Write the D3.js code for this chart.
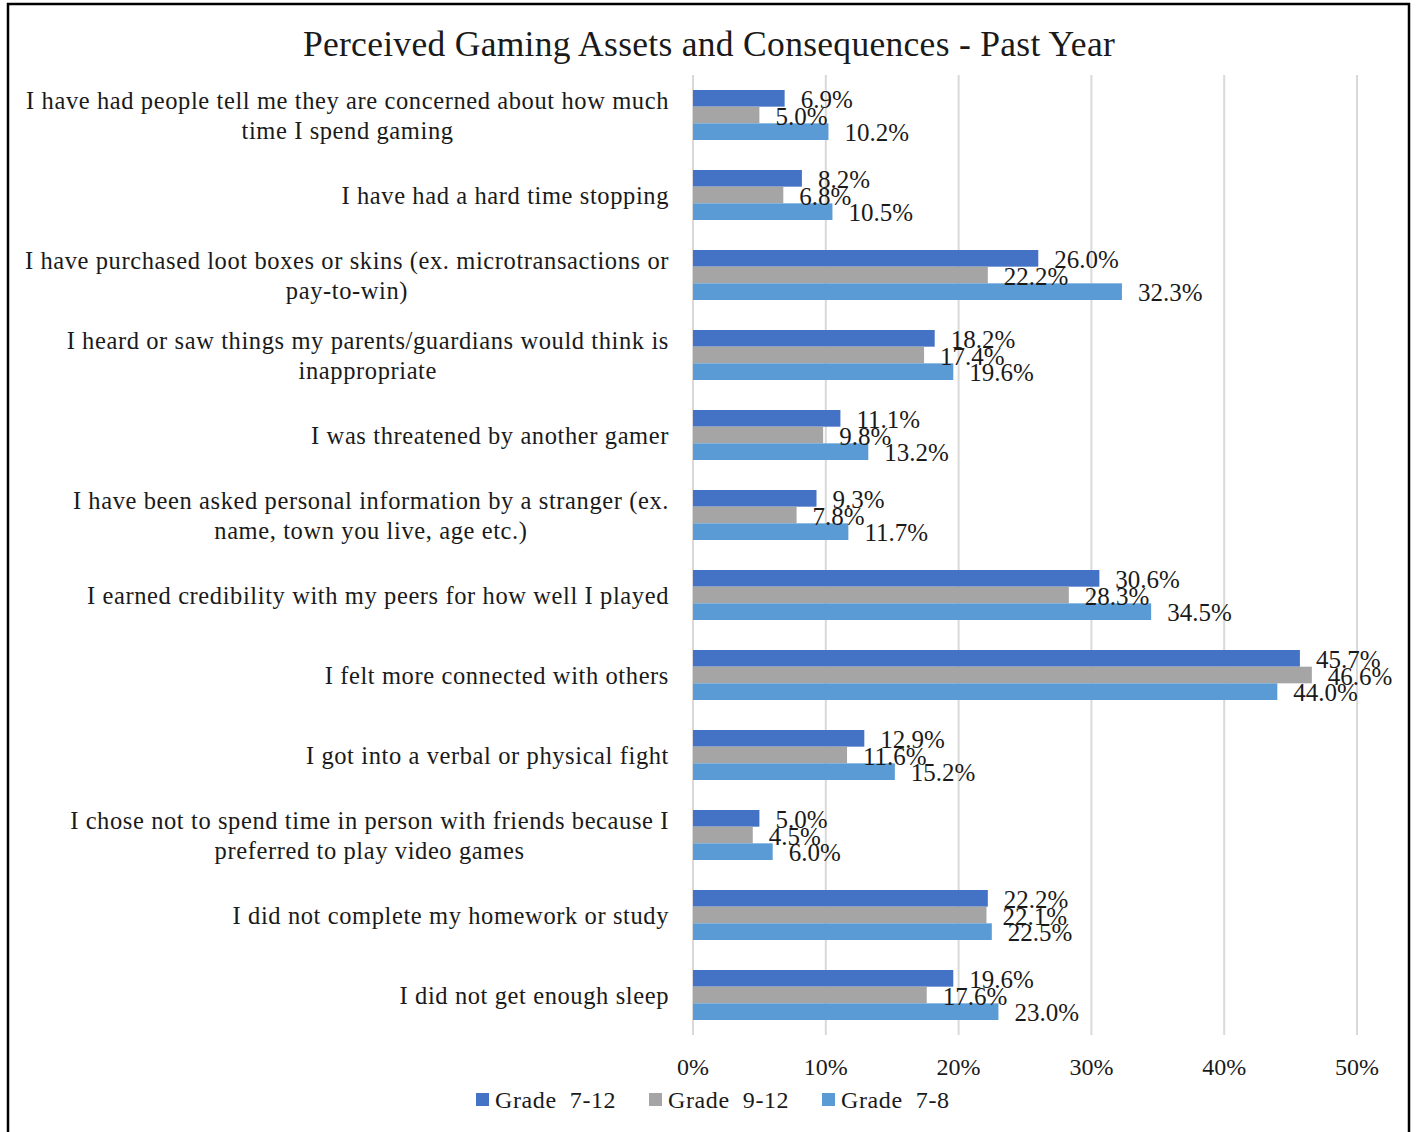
<!DOCTYPE html>
<html>
<head>
<meta charset="utf-8">
<script src="https://cdn.jsdelivr.net/npm/d3@7"></script>
<style>
  html, body { margin: 0; padding: 0; background: #fff; }
  svg { display: block; }
  text { font-family: "Liberation Serif", "Times New Roman", serif; fill: #1a1a1a; }
</style>
</head>
<body>
<svg id="chart" width="1418" height="1132"></svg>
<script>
// Survey items (line breaks mark where the label wraps)
const categories = [
  "I have had people tell me they are concerned about how much\ntime I spend gaming",
  "I have had a hard time stopping",
  "I have purchased loot boxes or skins (ex. microtransactions or\npay-to-win)",
  "I heard or saw things my parents/guardians would think is\ninappropriate",
  "I was threatened by another gamer",
  "I have been asked personal information by a stranger (ex.\nname, town you live, age etc.)",
  "I earned credibility with my peers for how well I played",
  "I felt more connected with others",
  "I got into a verbal or physical fight",
  "I chose not to spend time in person with friends because I\npreferred to play video games",
  "I did not complete my homework or study",
  "I did not get enough sleep"
];

const seriesNames = ["Grade  7-12", "Grade  9-12", "Grade  7-8"];
const grade7to12 = [6.9, 8.2, 26.0, 18.2, 11.1, 9.3, 30.6, 45.7, 12.9, 5.0, 22.2, 19.6];
const grade9to12 = [5.0, 6.8, 22.2, 17.4, 9.8, 7.8, 28.3, 46.6, 11.6, 4.5, 22.1, 17.6];
const grade7to8  = [10.2, 10.5, 32.3, 19.6, 13.2, 11.7, 34.5, 44.0, 15.2, 6.0, 22.5, 23.0];
const tickValues = [0, 10, 20, 30, 40, 50];
const colors = ["#4472C4", "#A5A5A5", "#5B9BD5"];

const series = [grade7to12, grade9to12, grade7to8];
const svg = d3.select("#chart");

// Outer frame
svg.append("rect")
  .attr("x", 8).attr("y", 4)
  .attr("width", 1401).attr("height", 1140)
  .attr("fill", "none").attr("stroke", "#000").attr("stroke-width", 2.5);

// Title
svg.append("text")
  .attr("x", 709).attr("y", 56)
  .attr("text-anchor", "middle")
  .attr("font-size", 35.5)
  .attr("letter-spacing", 0.3)
  .text("Perceived Gaming Assets and Consequences - Past Year");

const plot = { left: 693, right: 1357, top: 75, bottom: 1035 };

const x = d3.scaleLinear().domain([0, 50]).range([plot.left, plot.right]);
const y = d3.scaleBand().domain(d3.range(categories.length))
  .range([plot.top, plot.bottom]).paddingInner(0.375).paddingOuter(0.1875);
const ySub = d3.scaleBand().domain(d3.range(series.length)).range([0, y.bandwidth()]);

// Vertical gridlines
svg.append("g").selectAll("line")
  .data(tickValues)
  .join("line")
  .attr("x1", d => x(d)).attr("x2", d => x(d))
  .attr("y1", plot.top).attr("y2", plot.bottom)
  .attr("stroke", "#d9d9d9").attr("stroke-width", 2);

// Bars grouped by item
const groups = svg.append("g").selectAll("g")
  .data(categories)
  .join("g")
  .attr("transform", (d, i) => `translate(0,${y(i)})`);

groups.selectAll("rect")
  .data((d, i) => series.map((s, k) => ({ k, v: s[i] })))
  .join("rect")
  .attr("x", x(0))
  .attr("y", d => ySub(d.k))
  .attr("width", d => x(d.v) - x(0))
  .attr("height", ySub.bandwidth())
  .attr("fill", d => colors[d.k]);

// Value labels
groups.selectAll("text.val")
  .data((d, i) => series.map((s, k) => ({ k, v: s[i] })))
  .join("text")
  .attr("class", "val")
  .attr("x", d => x(d.v) + 16)
  .attr("y", d => ySub(d.k) + ySub.bandwidth() / 2 + 1)
  .attr("dominant-baseline", "central")
  .attr("font-size", 25)
  .text(d => d.v.toFixed(1) + "%");

// Category labels: block right-aligned, wrapped lines centered within it
const labelRight = 669;
const lineH = 30;
const catG = svg.append("g");
categories.forEach((c, i) => {
  const lines = c.split("\n");
  const g = catG.append("g");
  const cy = y(i) + y.bandwidth() / 2;
  const texts = lines.map((ln, j) => g.append("text")
    .attr("y", cy + (j - (lines.length - 1) / 2) * lineH)
    .attr("dominant-baseline", "central")
    .attr("text-anchor", "middle")
    .attr("font-size", 24.5)
    .attr("letter-spacing", 0.6)
    .text(ln));
  const maxW = d3.max(texts, t => t.node().getComputedTextLength());
  texts.forEach(t => t.attr("x", labelRight - maxW / 2));
});

// Axis tick labels
svg.append("g").selectAll("text")
  .data(tickValues)
  .join("text")
  .attr("x", d => x(d))
  .attr("y", 1067)
  .attr("dominant-baseline", "central")
  .attr("text-anchor", "middle")
  .attr("font-size", 24)
  .text(d => d + "%");

// Legend
const legendX = [476, 649, 822];
const legend = svg.append("g").selectAll("g")
  .data(seriesNames)
  .join("g")
  .attr("transform", (d, i) => `translate(${legendX[i]},1100)`);
legend.append("rect")
  .attr("x", 0).attr("y", -7).attr("width", 13).attr("height", 13)
  .attr("fill", (d, i) => colors[i]);
legend.append("text")
  .attr("x", 19).attr("y", 0)
  .attr("dominant-baseline", "central")
  .attr("font-size", 24)
  .attr("letter-spacing", 0.6)
  .attr("xml:space", "preserve")
  .style("white-space", "pre")
  .text(d => d);
</script>
</body>
</html>
